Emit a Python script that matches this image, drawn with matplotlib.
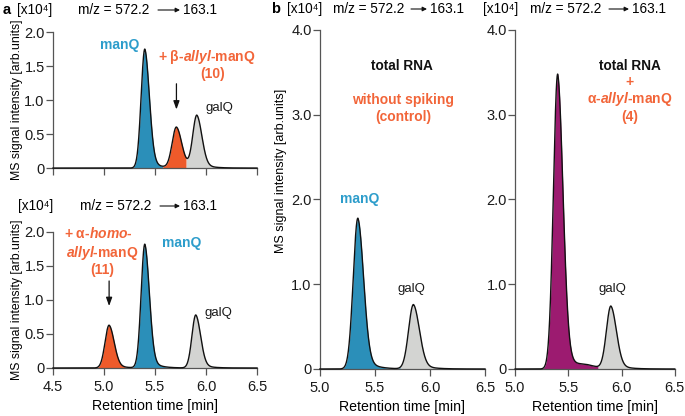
import numpy as np
import matplotlib
matplotlib.use("Agg")
import matplotlib.pyplot as plt

plt.rcParams['font.family'] = ['Liberation Sans', 'DejaVu Sans']
plt.rcParams['mathtext.fontset'] = 'custom'
plt.rcParams['mathtext.rm'] = 'Liberation Sans'
plt.rcParams['mathtext.it'] = 'Liberation Sans:italic'
plt.rcParams['mathtext.bf'] = 'Liberation Sans:bold'
plt.rcParams['mathtext.bfit'] = 'Liberation Sans:italic:bold'

# ---- data: peaks (retention time [min], height [x10^4], width sigma [min]) ----
# panel a, top: manQ, beta-allyl-manQ (10), galQ
a1_rt = [5.40, 5.71, 5.91]
a1_h = [1.75, 0.60, 0.77]
a1_sig = [0.036, 0.042, 0.040]
a1_fill_edges = [5.20, 5.575, 5.805, 6.30]
# panel a, bottom: alpha-homo-allyl-manQ (11), manQ, galQ
a2_rt = [5.05, 5.40, 5.90]
a2_h = [0.63, 1.82, 0.78]
a2_sig = [0.040, 0.036, 0.038]
a2_fill_edges = [4.85, 5.22, 5.72, 6.30]
# panel b: total RNA control: manQ, galQ
b_rt = [5.345, 5.85]
b_h = [1.78, 0.76]
b_sig = [0.042, 0.044]
b_fill_edges = [5.15, 5.73, 6.30]
# panel c: total RNA + alpha-allyl-manQ (4): manQ, shoulder, galQ
c_rt = [5.40, 5.67, 5.90]
c_h = [3.48, 0.035, 0.74]
c_sig = [0.040, 0.07, 0.042]
c_fill_edges = [5.15, 5.78, 6.30]

C_BLUE = '#2b8fb9'
C_ORANGE = '#ee5a2a'
C_GREY = '#d3d4d2'
C_PURPLE = '#9c1b70'
T_BLUE = '#2d9dcb'
T_ORANGE = '#f26539'
SPINE = '#555555'


def peak(t, c, h, s):
    left = np.exp(-0.5 * ((t - c) / s) ** 2)
    sr = s * 1.25
    right = 0.88 * np.exp(-0.5 * ((t - c) / sr) ** 2) + 0.12 * np.exp(-np.clip(t - c, 0, None) / (2.2 * s))
    return h * np.where(t < c, left, right)


def trace(t, rts, hs, sigs):
    y = np.zeros_like(t)
    for c, h, s in zip(rts, hs, sigs):
        y += peak(t, c, h, s)
    return y


fig = plt.figure(figsize=(6.85, 4.16), dpi=100)

def style(ax, xlim, ylim, yticks, ylabels, xticks, xlabels):
    ax.set_xlim(*xlim)
    ax.set_ylim(*ylim)
    for s in ['top', 'right']:
        ax.spines[s].set_visible(False)
    for s in ['left', 'bottom']:
        ax.spines[s].set_color(SPINE)
        ax.spines[s].set_linewidth(0.9)
    ax.set_yticks(yticks)
    ax.set_yticklabels(ylabels)
    ax.set_xticks(xticks)
    ax.set_xticklabels(xlabels)
    ax.tick_params(direction='out', length=5, width=0.9, color=SPINE, labelsize=10.5, labelcolor='#1a1a1a')
    ax.tick_params(axis='y', pad=1)
    ax.tick_params(axis='x', pad=3.5)
    ax.patch.set_alpha(0)


def draw(ax, rts, hs, sigs, edges, colors, t0, t1):
    t = np.linspace(t0, t1, 1500)
    y = trace(t, rts, hs, sigs)
    for i, col in enumerate(colors):
        m = (t >= edges[i]) & (t <= edges[i + 1])
        ax.fill_between(t[m], 0, y[m], color=col, lw=0)
    ax.plot(t, y, color='#111111', lw=1.0, clip_on=False, zorder=3)


ya_ticks = [0, 0.5, 1.0, 1.5, 2.0]
ya_labels = ['0', '0.5', '1.0', '1.5', '2.0']
xa_ticks = [4.5, 5.0, 5.5, 6.0, 6.5]
xa_labels = ['4.5', '5.0', '5.5', '6.0', '6.5']
yb_ticks = [0, 1.0, 2.0, 3.0, 4.0]
yb_labels = ['0', '1.0', '2.0', '3.0', '4.0']
xb_ticks = [5.0, 5.5, 6.0, 6.5]
xb_labels = ['5.0', '5.5', '6.0', '6.5']

ax1 = fig.add_axes([0.0774, 0.596, 0.2978, 0.327])
style(ax1, (4.5, 6.5), (0, 2.0), ya_ticks, ya_labels, xa_ticks, [''] * 5)
draw(ax1, a1_rt, a1_h, a1_sig, a1_fill_edges, [C_BLUE, C_ORANGE, C_GREY], 4.5, 6.5)

ax2 = fig.add_axes([0.0774, 0.1154, 0.2978, 0.327])
style(ax2, (4.5, 6.5), (0, 2.0), ya_ticks, ya_labels, xa_ticks, xa_labels)
draw(ax2, a2_rt, a2_h, a2_sig, a2_fill_edges, [C_ORANGE, C_BLUE, C_GREY], 4.5, 6.5)

ax3 = fig.add_axes([0.467, 0.113, 0.241, 0.815])
style(ax3, (5.0, 6.5), (0, 4.0), yb_ticks, yb_labels, xb_ticks, xb_labels)
draw(ax3, b_rt, b_h, b_sig, b_fill_edges, [C_BLUE, C_GREY], 5.0, 6.5)

ax4 = fig.add_axes([0.752, 0.113, 0.233, 0.815])
style(ax4, (5.0, 6.5), (0, 4.0), yb_ticks, yb_labels, xb_ticks, xb_labels)
draw(ax4, c_rt, c_h, c_sig, c_fill_edges, [C_PURPLE, C_GREY], 5.0, 6.5)

ylab = 'MS signal intensity [arb.units]'
ax1.set_ylabel(ylab, fontsize=8.8)
ax2.set_ylabel(ylab, fontsize=8.8)
ax3.set_ylabel(ylab, fontsize=9.0)
ax1.yaxis.set_label_coords(-0.145, 0.5)
ax2.yaxis.set_label_coords(-0.145, 0.5)
ax3.yaxis.set_label_coords(-0.2, 0.585)
for ax in (ax2, ax3, ax4):
    ax.set_xlabel('Retention time [min]', fontsize=10.2, labelpad=4)

W, H = 685.0, 416.0
def ftext(x, y, s, **kw):
    fig.text(x / W, 1 - y / H, s, va='center', **kw)

def header(x_unit, x_mz, x_arrow0, x_arrow1, x_end, y):
    ftext(x_unit, y, '[x10⁴]', fontsize=9.8, ha='left')
    ftext(x_mz, y, 'm/z = 572.2', fontsize=9.8, ha='left')
    fig.add_artist(matplotlib.patches.FancyArrowPatch(
        (x_arrow0 / W, 1 - y / H), (x_arrow1 / W, 1 - y / H), transform=fig.transFigure,
        arrowstyle='-|>,head_length=2.6,head_width=1.3', lw=0.8, color='#111111',
        shrinkA=0, shrinkB=0))
    ftext(x_end, y, '163.1', fontsize=9.8, ha='left')

ftext(3, 10, 'a', fontsize=10.5, fontweight='bold', ha='left')
header(17, 78, 158, 180, 183, 10)
header(18, 80, 160, 180, 183, 206)
ftext(271, 9, 'b', fontsize=10.5, fontweight='bold', ha='left')
header(287, 333, 411, 427, 430, 9)
header(483, 530, 609, 629, 632, 9)

# panel a top annotations
ftext(120, 45, 'manQ', fontsize=10, fontweight='bold', color=T_BLUE, ha='center')
ftext(207, 57, r'+ β-$\mathbfit{allyl}$-manQ', fontsize=10, fontweight='bold', color=T_ORANGE, ha='center')
ftext(213, 74, '(10)', fontsize=10, fontweight='bold', color=T_ORANGE, ha='center')
ax1.annotate('', xy=(5.71, 0.82), xytext=(5.71, 1.28),
             arrowprops=dict(arrowstyle='-|>,head_length=0.5,head_width=0.18', lw=0.9, color='#111111'))
ftext(219, 108, 'galQ', fontsize=9.5, color='#1a1a1a', ha='center')

# panel a bottom annotations
ftext(98, 233, r'+ α-$\mathbfit{homo}$-', fontsize=10, fontweight='bold', color=T_ORANGE, ha='center')
ftext(102, 253, r'$\mathbfit{allyl}$-manQ', fontsize=10, fontweight='bold', color=T_ORANGE, ha='center')
ftext(102, 270, '(11)', fontsize=10, fontweight='bold', color=T_ORANGE, ha='center')
ax2.annotate('', xy=(5.05, 0.87), xytext=(5.05, 1.32),
             arrowprops=dict(arrowstyle='-|>,head_length=0.5,head_width=0.18', lw=0.9, color='#111111'))
ftext(182, 243, 'manQ', fontsize=10, fontweight='bold', color=T_BLUE, ha='center')
ftext(218, 313, 'galQ', fontsize=9.5, color='#1a1a1a', ha='center')

# panel b annotations
ftext(402, 66, 'total RNA', fontsize=9.8, fontweight='bold', color='#111111', ha='center')
ftext(403, 100, 'without spiking', fontsize=10, fontweight='bold', color=T_ORANGE, ha='center')
ftext(403, 117, '(control)', fontsize=10, fontweight='bold', color=T_ORANGE, ha='center')
ftext(360, 199, 'manQ', fontsize=10, fontweight='bold', color=T_BLUE, ha='center')
ftext(411, 289, 'galQ', fontsize=9.5, color='#1a1a1a', ha='center')

# panel c annotations
ftext(630, 66, 'total RNA', fontsize=9.8, fontweight='bold', color='#111111', ha='center')
ftext(630, 82, '+', fontsize=10, fontweight='bold', color=T_ORANGE, ha='center')
ftext(630, 99, r'α-$\mathbfit{allyl}$-manQ', fontsize=10, fontweight='bold', color=T_ORANGE, ha='center')
ftext(630, 117, '(4)', fontsize=10, fontweight='bold', color=T_ORANGE, ha='center')
ftext(612, 289, 'galQ', fontsize=9.5, color='#1a1a1a', ha='center')

fig.savefig('out.png', dpi=100)
